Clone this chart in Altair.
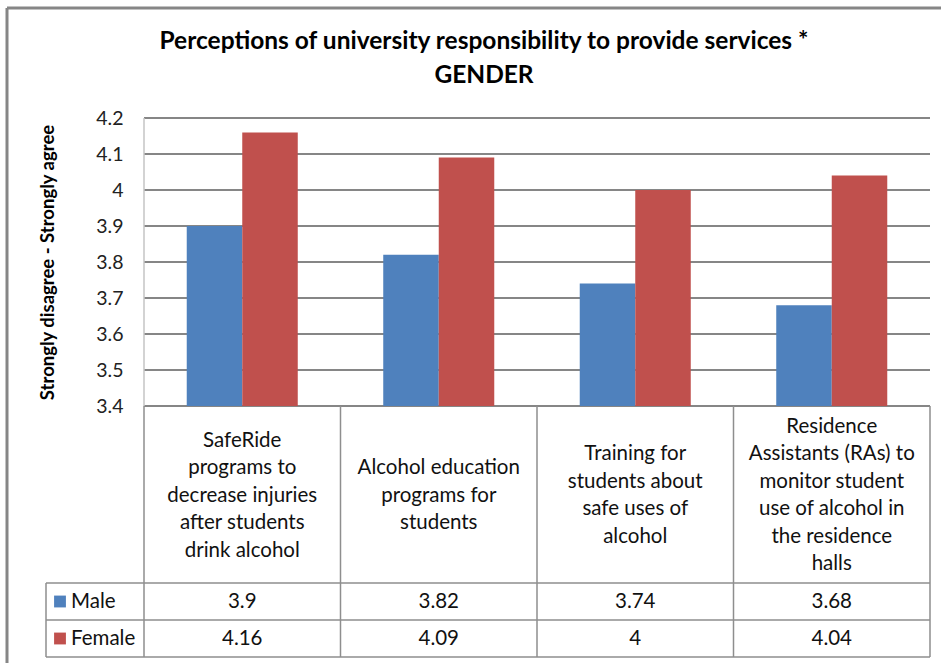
import altair as alt
import pandas as pd

# ---------------- data ----------------
categories = [
    "SafeRide programs to decrease injuries after students drink alcohol",
    "Alcohol education programs for students",
    "Training for students about safe uses of alcohol",
    "Residence Assistants (RAs) to monitor student use of alcohol in the residence halls",
]
category_labels = [
    "SafeRide\nprograms to\ndecrease injuries\nafter students\ndrink alcohol",
    "Alcohol education\nprograms for\nstudents",
    "Training for\nstudents about\nsafe uses of\nalcohol",
    "Residence\nAssistants (RAs) to\nmonitor student\nuse of alcohol in\nthe residence\nhalls",
]
genders = ["Male", "Female"]
male_values = [3.9, 3.82, 3.74, 3.68]
female_values = [4.16, 4.09, 4.0, 4.04]
colors = ["#4F81BD", "#C0504D"]
y_ticks = [3.4, 3.5, 3.6, 3.7, 3.8, 3.9, 4.0, 4.1, 4.2]
title_lines = ["Perceptions of university responsibility to provide services *", "GENDER"]
y_title = "Strongly disagree - Strongly agree"

# ---------------- layout ----------------
W, H = 786, 288
PAD_L, PAD_T, PAD_R, PAD_B = 144, 118, 11, 257
FONT = "Lato"
LABEL_BOTTOM = 465     # bottom of category label band (relative to plot top)
ROW1_BOTTOM = 502
ROW2_BOTTOM = 539
LEGEND_LEFT = -98
GRID = "#868686"
TABLE = "#8e8e8e"
LINE_H = 27.5
FS = 20.5

rows = []
for i, c in enumerate(categories):
    rows.append({"category": c, "gender": "Male", "value": male_values[i]})
    rows.append({"category": c, "gender": "Female", "value": female_values[i]})
df = pd.DataFrame(rows)
cat_df = pd.DataFrame({"category": categories, "label": category_labels})
tick_df = pd.DataFrame({"tick": y_ticks})
gender_df = pd.DataFrame({"gender": genders})
title_df = pd.DataFrame({"line": title_lines})

yscale = alt.Scale(domain=[3.4, 4.2], zero=False, nice=False)
xscale = alt.Scale(domain=categories, paddingInner=0, paddingOuter=0)
cscale = alt.Scale(domain=genders, range=colors)
yaxis = alt.Axis(
    values=y_ticks, format="~g", grid=False, domain=False, ticks=False,
    labelFont=FONT, labelFontSize=19.5, labelColor="#222222", labelPadding=21,
    title=y_title, titleFont=FONT, titleFontSize=18.5, titleFontWeight="bold",
    titleColor="#000000", titleAngle=270, titleX=-97, titleY=H / 2,
    titleAlign="center", titleBaseline="middle",
)
X = alt.X("category:N", sort=categories, scale=xscale, axis=None)

one = alt.Data(values=[{}])


def rule(x1, x2, y1, y2, color, width):
    return alt.Chart(one).mark_rule(color=color, strokeWidth=width).encode(
        x=alt.value(x1), x2=alt.value(x2), y=alt.value(y1), y2=alt.value(y2)
    )


grid = alt.Chart(tick_df).mark_rule(color=GRID, strokeWidth=2).encode(
    y=alt.Y("tick:Q", scale=yscale, axis=yaxis),
    x=alt.value(0), x2=alt.value(W),
)

bars = alt.Chart(df).mark_bar(clip=True).encode(
    x=X,
    xOffset=alt.XOffset("gender:N", sort=genders,
                        scale=alt.Scale(domain=genders, paddingInner=0, paddingOuter=0.77)),
    y=alt.Y("value:Q", scale=yscale, axis=yaxis, stack=None),
    y2=alt.datum(3.4),
    color=alt.Color("gender:N", scale=cscale, legend=None),
)

layers = [grid, bars]

# category labels, each block centred vertically in the label band
band_mid = (H + LABEL_BOTTOM) / 2
for c, lab in zip(categories, category_labels):
    n = lab.count("\n") + 1
    layers.append(
        alt.Chart(cat_df).transform_filter(alt.datum.category == c).mark_text(
            font=FONT, fontSize=FS, lineBreak="\n", lineHeight=LINE_H,
            align="center", baseline="middle", color="#111111",
        ).encode(x=X, y=alt.value(band_mid + 1 - (n - 1) * LINE_H / 2), text="label:N")
    )

row_centers = [(LABEL_BOTTOM + ROW1_BOTTOM) / 2, (ROW1_BOTTOM + ROW2_BOTTOM) / 2]
for g, yc in zip(genders, row_centers):
    layers.append(
        alt.Chart(df).transform_filter(alt.datum.gender == g).mark_text(
            font=FONT, fontSize=FS, align="center", baseline="middle", color="#111111"
        ).encode(x=X, y=alt.value(yc), text=alt.Text("value:Q", format="~g"))
    )
    layers.append(
        alt.Chart(gender_df).transform_filter(alt.datum.gender == g).mark_square(
            size=140, opacity=1
        ).encode(x=alt.value(-84), y=alt.value(yc),
                 color=alt.Color("gender:N", scale=cscale, legend=None))
    )
    layers.append(
        alt.Chart(gender_df).transform_filter(alt.datum.gender == g).mark_text(
            font=FONT, fontSize=FS, align="left", baseline="middle", color="#111111"
        ).encode(x=alt.value(-73), y=alt.value(yc), text="gender:N")
    )

# chart title (two centred lines)
for line, yb in zip(title_lines, [-69, -35]):
    layers.append(
        alt.Chart(title_df).transform_filter(alt.datum.line == line).mark_text(
            font=FONT, fontSize=24.5, fontWeight="bold", align="center",
            baseline="alphabetic", color="#000000",
        ).encode(x=alt.value(340), y=alt.value(yb), text="line:N")
    )

# faint left edge of plot area
layers.append(rule(0, 0, 0, H, "#c4c4c4", 1.5))
# table structure
for i in range(5):
    xv = W * i / 4
    layers.append(rule(xv, xv, H, ROW2_BOTTOM, TABLE, 1.5))
layers.append(rule(LEGEND_LEFT, LEGEND_LEFT, LABEL_BOTTOM, ROW2_BOTTOM, TABLE, 1.5))
for yv in [LABEL_BOTTOM, ROW1_BOTTOM, ROW2_BOTTOM]:
    layers.append(rule(LEGEND_LEFT, W, yv, yv, TABLE, 1.5))
# outer chart border (top and left)
layers.append(rule(-137, W + PAD_R, -110, -110, GRID, 3))
layers.append(rule(-137, -137, -110, H + PAD_B, GRID, 3))

chart = alt.layer(*layers).properties(
    width=W, height=H,
    padding={"left": PAD_L, "top": PAD_T, "right": PAD_R, "bottom": PAD_B},
    autosize=alt.AutoSizeParams(type="none"),
    background="white",
).configure_view(stroke=None)

chart.save("out.html", embed_options={"renderer": "svg", "actions": False})
